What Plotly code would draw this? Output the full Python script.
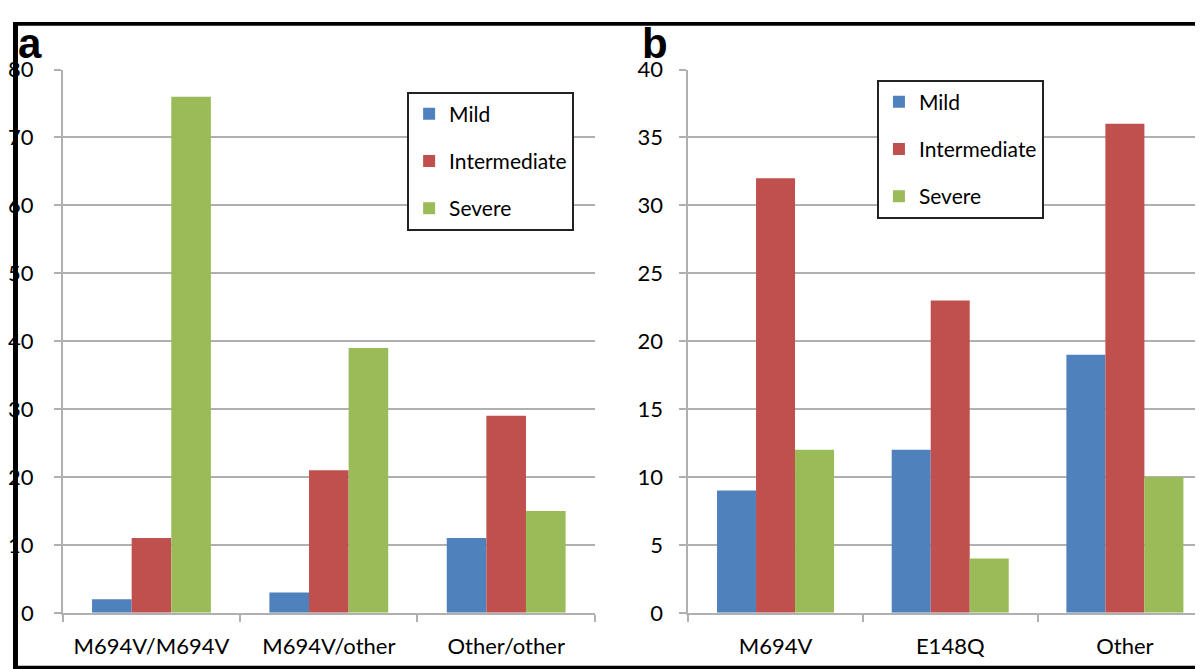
import plotly.graph_objects as go

# Panel a data
cats_a = ["M694V/M694V", "M694V/other", "Other/other"]
mild_a = [2, 3, 11]
inter_a = [11, 21, 29]
severe_a = [76, 39, 15]

# Panel b data
cats_b = ["M694V", "E148Q", "Other"]
mild_b = [9, 12, 19]
inter_b = [32, 23, 36]
severe_b = [12, 4, 10]

series_names = ["Mild", "Intermediate", "Severe"]
colors = ["#4F81BD", "#C0504D", "#9BBB59"]

W, H = 1203, 675
FONT = "Lato"

# mapping from target picture pixels to figure pixels (measured from the photographed page)
SX, OX = 0.992, 10.4
SY, OY = 0.9595, 22.5


def px(x):
    return ((x - OX) / SX) / W


def py(y):
    return 1 - ((y - OY) / SY) / H


def fy(v):
    return 1 - v / H


fig = go.Figure()
for name, col, vals in zip(series_names, colors, [mild_a, inter_a, severe_a]):
    fig.add_trace(go.Bar(x=cats_a, y=vals, name=name, marker=dict(color=col, line=dict(width=0)),
                         xaxis="x", yaxis="y", legend="legend", legendgroup=name + "a"))
for name, col, vals in zip(series_names, colors, [mild_b, inter_b, severe_b]):
    fig.add_trace(go.Bar(x=cats_b, y=vals, name=name, marker=dict(color=col, line=dict(width=0)),
                         xaxis="x2", yaxis="y2", legend="legend2", legendgroup=name + "b"))

grid = "#B0B0B0"
ydom = [py(613), py(70)]

# panel b continues past the right edge: category width in figure pixels
b_left = (683 - OX) / SX
b_catw = 174 / SX
b_end = -0.5 + (W - b_left) / b_catw

common_x = dict(type="category", showgrid=False, showline=True, linecolor=grid, linewidth=1.5,
                ticks="outside", ticklen=7, tickcolor=grid, tickwidth=1.5, tickson="boundaries",
                tickfont=dict(family=FONT, size=22, color="black"), ticklabelstandoff=13, fixedrange=True)
common_y = dict(showgrid=True, gridcolor=grid, gridwidth=1.5, showline=True, linecolor=grid, linewidth=1.5,
                ticks="outside", ticklen=7, tickcolor=grid, tickwidth=1.5, zeroline=False,
                tickfont=dict(family=FONT, size=22, color="black"))

fig.update_layout(
    width=W, height=H, margin=dict(l=0, r=0, t=0, b=0),
    paper_bgcolor="white", plot_bgcolor="white",
    barmode="group", bargap=0.33, bargroupgap=0,
    showlegend=True,
    xaxis=dict(common_x, domain=[px(60), px(590)], anchor="y", range=[-0.5, 2.5]),
    yaxis=dict(common_y, domain=ydom, anchor="x", range=[0, 80], dtick=10, ticklabelstandoff=16),
    xaxis2=dict(common_x, domain=[px(683), 1.0], anchor="y2", range=[-0.5, b_end]),
    yaxis2=dict(common_y, domain=ydom, anchor="x2", range=[0, 40], dtick=5, ticklabelstandoff=12),
    legend=dict(x=px(403), y=py(92), xanchor="left", yanchor="top",
                bordercolor="#222", borderwidth=2, bgcolor="white",
                font=dict(family=FONT, size=21, color="black"),
                traceorder="grouped", tracegroupgap=17, itemwidth=30),
    legend2=dict(x=px(871), y=py(80), xanchor="left", yanchor="top",
                 bordercolor="#222", borderwidth=2, bgcolor="white",
                 font=dict(family=FONT, size=21, color="black"),
                 traceorder="grouped", tracegroupgap=17, itemwidth=30),
    shapes=[
        # frame: top, left, bottom bands
        dict(type="rect", xref="paper", yref="paper", x0=0, x1=1, y0=fy(4), y1=1,
             fillcolor="black", line=dict(width=0), layer="above"),
        dict(type="rect", xref="paper", yref="paper", x0=0, x1=5 / W, y0=0, y1=1,
             fillcolor="black", line=dict(width=0), layer="above"),
        dict(type="rect", xref="paper", yref="paper", x0=0, x1=1, y0=0, y1=py(666),
             fillcolor="black", line=dict(width=0), layer="above"),
    ],
    annotations=[
        dict(text="<b>a</b>", xref="paper", yref="paper", x=px(13), y=fy(-4), xanchor="left", yanchor="top",
             showarrow=False, font=dict(family="Liberation Sans", size=42, color="black")),
        dict(text="<b>b</b>", xref="paper", yref="paper", x=px(635), y=fy(-4), xanchor="left", yanchor="top",
             showarrow=False, font=dict(family="Liberation Sans", size=42, color="black")),
    ],
)

fig.write_html("out.html")
